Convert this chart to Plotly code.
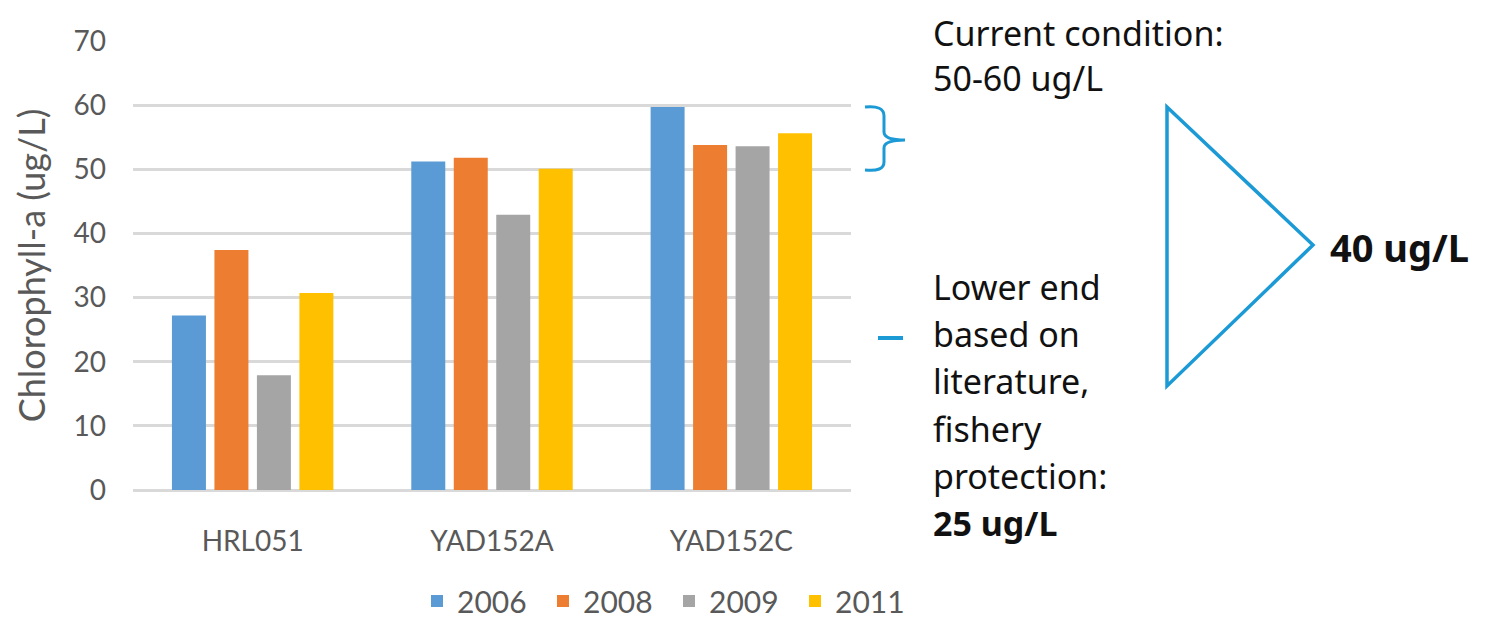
import plotly.graph_objects as go

# ---- data ----
categories = ["HRL051", "YAD152A", "YAD152C"]
years = ["2006", "2008", "2009", "2011"]
values_2006 = [27.2, 51.2, 59.7]
values_2008 = [37.4, 51.8, 53.8]
values_2009 = [17.9, 42.9, 53.6]
values_2011 = [30.7, 50.1, 55.6]
series_values = [values_2006, values_2008, values_2009, values_2011]
colors = ["#5B9BD5", "#ED7D31", "#A5A5A5", "#FFC000"]

y_ticks = [0, 10, 20, 30, 40, 50, 60, 70]

top_text = ["Current condition:", "50-60 ug/L"]
low_text = ["Lower end", "based on", "literature,", "fishery", "protection:", "<b>25 ug/L</b>"]
target_text = "<b>40 ug/L</b>"

# ---- layout geometry (window pixels; page body has an 8px margin) ----
OFF = 8
W, H = 1485 - OFF, 627 - OFF
L, R, T, B = 133, 851, 41, 490   # plot area in window pixels
def px(x):
    return (x - L) / (R - L)
def py(y):
    return (B - y) / (B - T)

fig = go.Figure()
for yr, vals, col in zip(years, series_values, colors):
    fig.add_trace(go.Bar(x=categories, y=vals, name=yr, marker_color=col,
                         marker_line_width=0))

tick_font = dict(family="Lato, Open Sans, sans-serif", size=28, color="#595959")
ann_color = "#1C9AD6"
text_font = dict(family="Noto Sans, sans-serif", size=34, color="#111111")

annotations = []
for i, line in enumerate(top_text):
    annotations.append(dict(x=px(931), y=py(8 + i * 45), xref="paper", yref="paper",
                            text=line, showarrow=False, xanchor="left", yanchor="top",
                            font=text_font))
for i, line in enumerate(low_text):
    annotations.append(dict(x=px(931), y=py(287 + i * 47.2), xref="paper", yref="paper",
                            text=line, showarrow=False, xanchor="left", yanchor="middle",
                            font=text_font))
annotations.append(dict(x=px(1328), y=py(247), xref="paper", yref="paper",
                        text=target_text, showarrow=False, xanchor="left", yanchor="middle",
                        font=dict(family="Noto Sans, sans-serif", size=38, color="#111111")))

def path_from(cmds):
    out = []
    for c in cmds:
        if isinstance(c, str):
            out.append(c)
        else:
            out.append(f"{px(c[0]):.5f},{py(c[1]):.5f}")
    return " ".join(out)

bracket = path_from(["M", (865, 107), "Q", (884, 105), (884, 116), "L", (884, 132),
                     "Q", (884, 140), (905, 140), "Q", (884, 140), (884, 148),
                     "L", (884, 162), "Q", (884, 172), (865, 170)])
triangle = path_from(["M", (1167, 107), "L", (1313, 245), "L", (1167, 386), "Z"])

shapes = [
    dict(type="path", path=bracket, xref="paper", yref="paper",
         line=dict(color=ann_color, width=3)),
    dict(type="path", path=triangle, xref="paper", yref="paper",
         line=dict(color=ann_color, width=3.5)),
    dict(type="line", x0=px(878), x1=px(903), y0=py(338), y1=py(338),
         xref="paper", yref="paper", line=dict(color=ann_color, width=4)),
]

fig.update_layout(
    width=W, height=H,
    margin=dict(l=L - OFF, r=W - (R - OFF), t=T - OFF, b=H - (B - OFF), autoexpand=False),
    paper_bgcolor="white", plot_bgcolor="white",
    bargap=0.29, bargroupgap=0.2,
    showlegend=True,
    legend=dict(orientation="h", x=px(417), xanchor="left", y=py(627), yanchor="bottom",
                font=dict(family="Lato, Open Sans, sans-serif", size=30, color="#595959"),
                entrywidth=81, bgcolor="rgba(0,0,0,0)", borderwidth=0),
    xaxis=dict(tickfont=tick_font, showgrid=False, showline=False, ticks="",
               ticklabelstandoff=32, automargin=False),
    yaxis=dict(range=[0, 70], tickvals=y_ticks, tickfont=tick_font,
               gridcolor="#D9D9D9", gridwidth=2.5, zeroline=True,
               zerolinecolor="#D9D9D9", zerolinewidth=2.5, showline=False,
               ticklabelstandoff=26, automargin=False,
               title=dict(text="Chlorophyll-a (ug/L)", standoff=16,
                          font=dict(family="Lato, Open Sans, sans-serif", size=36,
                                    color="#595959"))),
    annotations=annotations,
    shapes=shapes,
)

fig.write_html("out.html")
